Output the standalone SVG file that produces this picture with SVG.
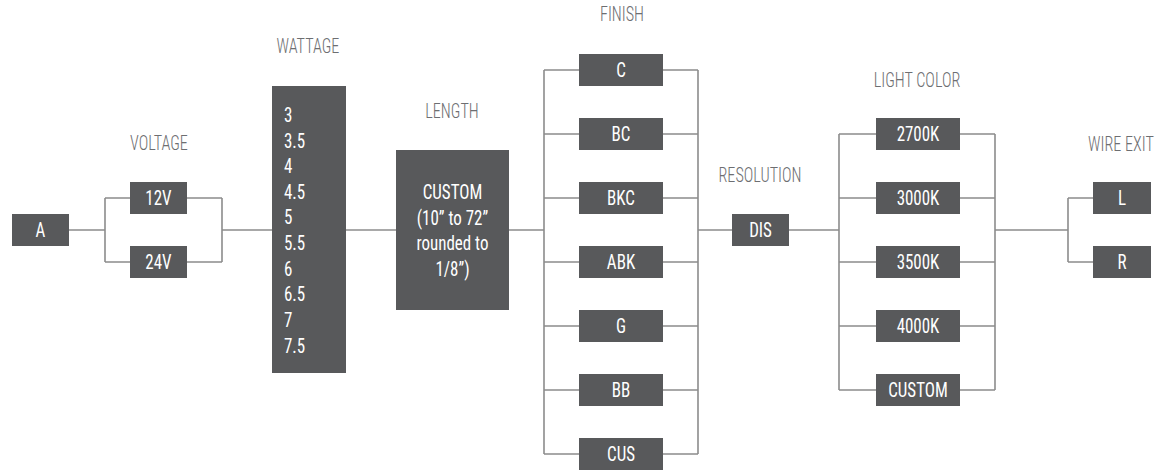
<svg xmlns="http://www.w3.org/2000/svg" width="1173" height="470" viewBox="0 0 1173 470">
<style>
text{font-family:"Roboto Condensed","DejaVu Sans Condensed","Liberation Sans Narrow","Liberation Sans",sans-serif;font-stretch:condensed;transform-box:fill-box}
.box{fill:#58595b}
.t{fill:#ffffff;font-size:19.5px;text-anchor:middle;font-weight:400;transform:scaleX(0.87);transform-origin:center}
.tl{fill:#ffffff;font-size:19.5px;text-anchor:start;font-weight:400;transform:scaleX(0.87);transform-origin:left}
.lab{fill:#6d6e71;font-size:19.5px;text-anchor:middle;font-weight:300;transform:scaleX(0.83);transform-origin:center}
.c{fill:none;stroke:#8c8c8c;stroke-width:1.6}
</style>
<rect width="1173" height="470" fill="#ffffff"/>
<g id="labels">
<text class="lab" x="159" y="150">VOLTAGE</text>
<text class="lab" x="308" y="53">WATTAGE</text>
<text class="lab" x="452" y="118">LENGTH</text>
<text class="lab" x="622" y="21">FINISH</text>
<text class="lab" x="760" y="182">RESOLUTION</text>
<text class="lab" x="917" y="87">LIGHT COLOR</text>
<text class="lab" x="1121" y="151">WIRE EXIT</text>
</g>
<g id="connectors">
<path class="c" d="M69 230H105M105 198V262M105 198H130M105 262H130"/>
<path class="c" d="M187 198H222M187 262H222M222 198V262M222 230H272"/>
<path class="c" d="M346 230H396"/>
<path class="c" d="M509 230H544M544 70V454"/>
<path class="c" d="M544 70H579M544 134H579M544 198H579M544 262H579M544 326H579M544 390H579M544 454H579"/>
<path class="c" d="M663 70H698M663 134H698M663 198H698M663 262H698M663 326H698M663 390H698M663 454H698M698 70V454"/>
<path class="c" d="M698 230H732M789 230H839M839 134V390"/>
<path class="c" d="M839 134H876M839 198H876M839 262H876M839 326H876M839 390H876"/>
<path class="c" d="M960 134H995M960 198H995M960 262H995M960 326H995M960 390H995M995 134V390"/>
<path class="c" d="M995 230H1068M1068 198V262M1068 198H1093M1068 262H1093"/>
</g>
<g id="node-A"><rect class="box" x="12" y="214" width="57" height="32"/><text class="t" x="40.5" y="237">A</text></g>
<g id="node-12V"><rect class="box" x="130" y="182" width="57" height="32"/><text class="t" x="158.5" y="205">12V</text></g>
<g id="node-24V"><rect class="box" x="130" y="246" width="57" height="32"/><text class="t" x="158.5" y="269">24V</text></g>
<g id="node-wattage"><rect class="box" x="272" y="86" width="74" height="287"/>
<text class="tl" x="284" y="122">3</text>
<text class="tl" x="284" y="148">3.5</text>
<text class="tl" x="284" y="173">4</text>
<text class="tl" x="284" y="199">4.5</text>
<text class="tl" x="284" y="224">5</text>
<text class="tl" x="284" y="250">5.5</text>
<text class="tl" x="284" y="276">6</text>
<text class="tl" x="284" y="301">6.5</text>
<text class="tl" x="284" y="327">7</text>
<text class="tl" x="284" y="353">7.5</text>
</g>
<g id="node-length"><rect class="box" x="396" y="150" width="113" height="160"/>
<text class="t" x="452.5" y="199">CUSTOM</text>
<text class="t" x="452.5" y="225">(10” to 72”</text>
<text class="t" x="452.5" y="250">rounded to</text>
<text class="t" x="452.5" y="276">1/8”)</text>
</g>
<g id="node-C"><rect class="box" x="579" y="54" width="84" height="32"/><text class="t" x="621" y="77">C</text></g>
<g id="node-BC"><rect class="box" x="579" y="118" width="84" height="32"/><text class="t" x="621" y="141">BC</text></g>
<g id="node-BKC"><rect class="box" x="579" y="182" width="84" height="32"/><text class="t" x="621" y="205">BKC</text></g>
<g id="node-ABK"><rect class="box" x="579" y="246" width="84" height="32"/><text class="t" x="621" y="269">ABK</text></g>
<g id="node-G"><rect class="box" x="579" y="310" width="84" height="32"/><text class="t" x="621" y="333">G</text></g>
<g id="node-BB"><rect class="box" x="579" y="374" width="84" height="32"/><text class="t" x="621" y="397">BB</text></g>
<g id="node-CUS"><rect class="box" x="579" y="438" width="84" height="32"/><text class="t" x="621" y="461">CUS</text></g>
<g id="node-DIS"><rect class="box" x="732" y="214" width="57" height="32"/><text class="t" x="760.5" y="237">DIS</text></g>
<g id="node-2700K"><rect class="box" x="876" y="118" width="84" height="32"/><text class="t" x="918" y="141">2700K</text></g>
<g id="node-3000K"><rect class="box" x="876" y="182" width="84" height="32"/><text class="t" x="918" y="205">3000K</text></g>
<g id="node-3500K"><rect class="box" x="876" y="246" width="84" height="32"/><text class="t" x="918" y="269">3500K</text></g>
<g id="node-4000K"><rect class="box" x="876" y="310" width="84" height="32"/><text class="t" x="918" y="333">4000K</text></g>
<g id="node-CUSTOM"><rect class="box" x="876" y="374" width="84" height="32"/><text class="t" x="918" y="397">CUSTOM</text></g>
<g id="node-L"><rect class="box" x="1093" y="182" width="58" height="32"/><text class="t" x="1122" y="205">L</text></g>
<g id="node-R"><rect class="box" x="1093" y="246" width="58" height="32"/><text class="t" x="1122" y="269">R</text></g>
</svg>
